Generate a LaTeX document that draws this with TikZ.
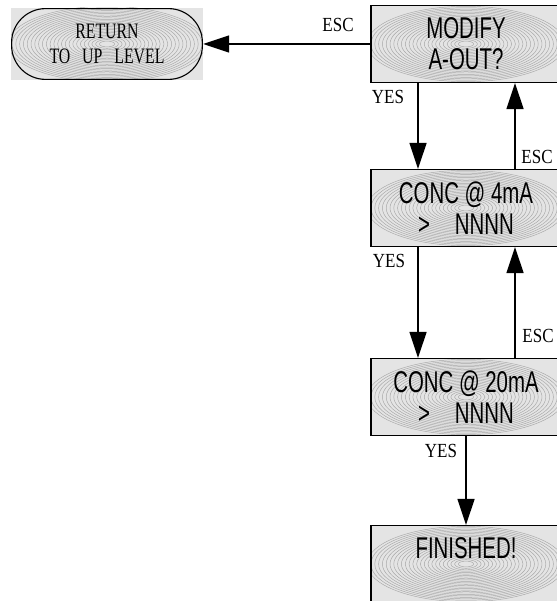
\documentclass[tikz,border=0pt]{standalone}
\usepackage{fontspec}
\setmainfont{Liberation Serif}
\newfontfamily\lcdfont[FakeStretch=0.68]{Liberation Sans}
\newfontfamily\tagfont[FakeStretch=0.85]{Liberation Serif}
\newfontfamily\pillfont[FakeStretch=0.72, WordSpace=3]{Liberation Serif}
\usetikzlibrary{arrows.meta}
\definecolor{lcdGray}{HTML}{E4E4E4}
\definecolor{lcdRing}{HTML}{A6A6A6}

% concentric rings of the display background
\newcommand{\lcdrings}{%
  \foreach \r in {2,...,26}
    \draw[lcdRing, line width=0.45pt] (path picture bounding box.center) ellipse ({\r*3.8pt} and {\r*1.45pt});}

\tikzset{
  lcdbox/.style={draw, line width=1.1pt, fill=lcdGray, path picture={\lcdrings},
    minimum width=190pt, minimum height=77pt, inner sep=0pt, align=center,
    font=\lcdfont\fontsize{30}{31}\selectfont},
  pillbox/.style={fill=lcdGray, minimum width=192pt, minimum height=72pt, inner sep=0pt,
    align=center, font=\pillfont\fontsize{22}{25}\selectfont,
    path picture={
      \lcdrings
      \draw[line width=1.1pt, rounded corners=34pt]
        ([shift={(0.6pt,-0.6pt)}]path picture bounding box.north west) rectangle
        ([shift={(-0.6pt,0.6pt)}]path picture bounding box.south east);
    }},
  tag/.style={inner sep=0pt, font=\tagfont\fontsize{20}{22}\selectfont},
  flow/.style={line width=1.4pt, -{Triangle[length=26pt,width=17pt]}}
}

\begin{document}
\begin{tikzpicture}[x=1pt, y=-1pt]
  \useasboundingbox (0,0) rectangle (556,601);

  % menu screens
  \node[pillbox] (ret) at (107,44) {RETURN\\TO UP LEVEL};
  \node[lcdbox] (modify) at (466,44) {MODIFY\\A-OUT?};
  \node[lcdbox] (concLow) at (466,208) {CONC @ 4mA\\>\hspace{25pt}NNNN};
  \node[lcdbox] (concHigh) at (466,397) {CONC @ 20mA\\>\hspace{25pt}NNNN};
  \node[lcdbox] (finished) at (466,564) {FINISHED!\\\phantom{X}};

  % key labels
  \node[tag] (escTop) at (338,25) {ESC};
  \node[tag] (yesModify) at (388,97) {YES};
  \node[tag] (escLow) at (537,157) {ESC};
  \node[tag] (yesLow) at (389,261) {YES};
  \node[tag] (escHigh) at (538,336) {ESC};
  \node[tag] (yesHigh) at (441,451) {YES};

  % transitions
  \draw[flow] (modify.west) -- (ret.east);
  \draw[flow] ([xshift=-48pt]modify.south) -- ([xshift=-48pt]concLow.north);
  \draw[flow] ([xshift=49pt]concLow.north) -- ([xshift=49pt]modify.south);
  \draw[flow] ([xshift=-48pt]concLow.south) -- ([xshift=-48pt]concHigh.north);
  \draw[flow] ([xshift=49pt]concHigh.north) -- ([xshift=49pt]concLow.south);
  \draw[flow] (concHigh.south) -- (finished.north);
\end{tikzpicture}
\end{document}
